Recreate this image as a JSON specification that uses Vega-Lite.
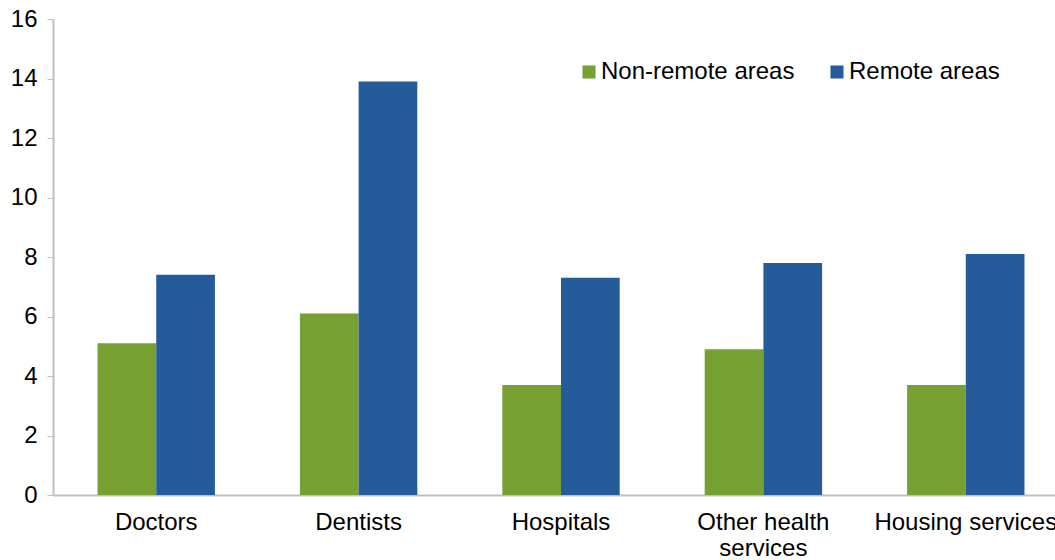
{
  "$schema": "https://vega.github.io/schema/vega-lite/v6.json",
  "autosize": "none",
  "width": 1002,
  "height": 476,
  "padding": {"left": 53, "top": 19, "right": 0, "bottom": 65},
  "background": "white",
  "config": {
    "view": {"stroke": null},
    "font": "Liberation Sans",
    "axis": {"labelFont": "Liberation Sans", "labelColor": "#000000", "domainColor": "#bfbfbf", "tickColor": "#bfbfbf", "grid": false, "title": null}
  },
  "data": {
    "values": [
      {"service": "Doctors", "area": "Non-remote areas", "value": 5.1},
      {"service": "Doctors", "area": "Remote areas", "value": 7.4},
      {"service": "Dentists", "area": "Non-remote areas", "value": 6.1},
      {"service": "Dentists", "area": "Remote areas", "value": 13.9},
      {"service": "Hospitals", "area": "Non-remote areas", "value": 3.7},
      {"service": "Hospitals", "area": "Remote areas", "value": 7.3},
      {"service": "Other health services", "area": "Non-remote areas", "value": 4.9},
      {"service": "Other health services", "area": "Remote areas", "value": 7.8},
      {"service": "Housing services", "area": "Non-remote areas", "value": 3.7},
      {"service": "Housing services", "area": "Remote areas", "value": 8.1}
    ]
  },
  "mark": {"type": "bar"},
  "encoding": {
    "x": {
      "field": "service", "type": "nominal", "sort": null,
      "scale": {"paddingInner": 0.42, "paddingOuter": 0.22, "range": [0, 1016]},
      "axis": {"labelAngle": 0, "labelFontSize": 24, "ticks": false, "labelPadding": 15, "domainWidth": 2, "labelLimit": 400, "labelOverlap": false,
        "labelExpr": "datum.label == 'Other health services' ? ['Other health', 'services'] : datum.label", "labelLineHeight": 26}
    },
    "xOffset": {"field": "area", "type": "nominal", "sort": null},
    "y": {
      "field": "value", "type": "quantitative",
      "scale": {"domain": [0, 16]},
      "axis": {"values": [0, 2, 4, 6, 8, 10, 12, 14, 16], "labelFontSize": 24, "tickSize": 6, "labelPadding": 10, "domainWidth": 2}
    },
    "color": {
      "field": "area", "type": "nominal", "sort": null,
      "scale": {"domain": ["Non-remote areas", "Remote areas"], "range": ["#77a033", "#265b9b"]},
      "legend": {
        "title": null, "orient": "none", "direction": "horizontal", "legendX": 524, "legendY": 41,
        "symbolType": "square", "symbolSize": 170, "labelFontSize": 24, "labelColor": "#000000", "labelLimit": 400,
        "columnPadding": 30, "labelOffset": 0, "symbolStrokeWidth": 0
      }
    }
  }
}
